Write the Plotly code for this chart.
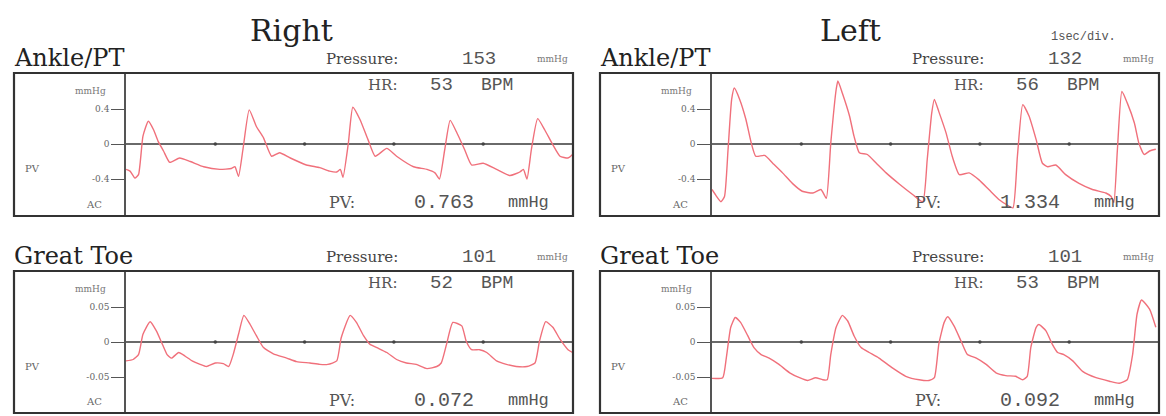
import plotly.graph_objects as go

W, H = 1166, 416

# ---------------- data ----------------
side_titles = ["Right", "Left"]
site_names = ["Ankle/PT", "Ankle/PT", "Great Toe", "Great Toe"]
pressure_mmHg = ["153", "132", "101", "101"]
hr_bpm = ["53", "56", "52", "53"]
pv_mmHg = ["0.763", "1.334", "0.072", "0.092"]
time_scale_label = "1sec/div."

ankle_ticks = [-0.4, 0, 0.4]
ankle_ticktext = ["-0.4", "0", "0.4"]
toe_ticks = [-0.05, 0, 0.05]
toe_ticktext = ["-0.05", "0", "0.05"]
sec_divs = [1, 2, 3, 4]

# Right Ankle/PT (time s, mmHg)
r_ankle_t = [0.00, 0.045, 0.10, 0.14, 0.19, 0.25, 0.31, 0.36, 0.42, 0.49, 0.60, 0.72, 0.87, 1.05, 1.18, 1.22,
             1.26, 1.31, 1.38, 1.46, 1.54, 1.63, 1.72, 1.84, 2.02, 2.17, 2.28, 2.36, 2.40, 2.43, 2.49, 2.54,
             2.62, 2.71, 2.79, 2.92, 3.03, 3.22, 3.37, 3.46, 3.51, 3.57, 3.63, 3.70, 3.79, 3.87, 4.00, 4.15,
             4.30, 4.41, 4.45, 4.49, 4.54, 4.61, 4.69, 4.78, 4.86, 4.95, 5.00]
r_ankle_v = [-0.29, -0.31, -0.39, -0.35, 0.09, 0.26, 0.16, 0.03, -0.08, -0.21, -0.16, -0.20, -0.26, -0.29, -0.28, -0.26,
             -0.37, -0.06, 0.39, 0.20, 0.07, -0.14, -0.10, -0.16, -0.24, -0.27, -0.31, -0.32, -0.29, -0.38, 0.01, 0.42,
             0.28, 0.05, -0.14, -0.05, -0.14, -0.26, -0.29, -0.33, -0.40, -0.06, 0.27, 0.14, -0.06, -0.24, -0.22, -0.29,
             -0.36, -0.32, -0.29, -0.40, -0.06, 0.29, 0.16, -0.01, -0.14, -0.16, -0.12]

# Left Ankle/PT
l_ankle_t = [0.00, 0.045, 0.10, 0.14, 0.18, 0.22, 0.25, 0.31, 0.38, 0.44, 0.49, 0.59, 0.68, 0.79, 0.90, 1.01,
             1.13, 1.22, 1.28, 1.33, 1.39, 1.41, 1.46, 1.54, 1.59, 1.65, 1.74, 1.84, 1.95, 2.10, 2.25, 2.36,
             2.41, 2.46, 2.49, 2.54, 2.62, 2.69, 2.77, 2.88, 2.99, 3.10, 3.22, 3.31, 3.37, 3.42, 3.48, 3.55,
             3.63, 3.70, 3.76, 3.85, 3.96, 4.11, 4.26, 4.41, 4.47, 4.50, 4.54, 4.59, 4.65, 4.73, 4.78, 4.84,
             4.90, 4.97]
l_ankle_v = [-0.52, -0.59, -0.66, -0.60, -0.06, 0.51, 0.64, 0.51, 0.28, 0.01, -0.14, -0.13, -0.22, -0.33, -0.45, -0.54,
             -0.56, -0.52, -0.62, 0.01, 0.62, 0.72, 0.58, 0.32, 0.09, -0.10, -0.12, -0.22, -0.33, -0.46, -0.58, -0.66,
             -0.18, 0.35, 0.51, 0.37, 0.13, -0.14, -0.35, -0.33, -0.41, -0.52, -0.64, -0.70, -0.73, -0.14, 0.45, 0.32,
             0.05, -0.22, -0.26, -0.24, -0.35, -0.45, -0.52, -0.56, -0.60, -0.67, -0.06, 0.60, 0.47, 0.24, 0.01, -0.12,
             -0.08, -0.06]

# Right Great Toe
r_toe_t = [0.00, 0.08, 0.14, 0.19, 0.27, 0.34, 0.40, 0.46, 0.51, 0.59, 0.66, 0.74, 0.83, 0.90, 1.00, 1.09,
           1.15, 1.20, 1.26, 1.32, 1.39, 1.46, 1.54, 1.65, 1.80, 1.91, 2.06, 2.17, 2.26, 2.36, 2.41, 2.51,
           2.58, 2.66, 2.73, 2.81, 2.92, 3.03, 3.14, 3.25, 3.37, 3.48, 3.53, 3.59, 3.66, 3.76, 3.81, 3.87,
           3.96, 4.04, 4.15, 4.26, 4.37, 4.49, 4.58, 4.63, 4.70, 4.78, 4.86, 4.95, 5.00]
r_toe_v = [-0.027, -0.025, -0.018, 0.011, 0.029, 0.016, -0.001, -0.018, -0.023, -0.015, -0.020, -0.027, -0.032, -0.035, -0.030, -0.031,
           -0.035, -0.018, 0.011, 0.038, 0.025, 0.009, -0.008, -0.017, -0.023, -0.028, -0.030, -0.032, -0.032, -0.027, 0.006, 0.038,
           0.028, 0.009, -0.003, -0.008, -0.015, -0.025, -0.030, -0.032, -0.038, -0.035, -0.030, -0.003, 0.028, 0.023, 0.001, -0.011,
           -0.011, -0.015, -0.027, -0.032, -0.035, -0.035, -0.030, 0.001, 0.029, 0.021, 0.004, -0.011, -0.015]

# Left Great Toe
l_toe_t = [0.00, 0.12, 0.16, 0.21, 0.26, 0.32, 0.40, 0.47, 0.55, 0.64, 0.75, 0.87, 0.98, 1.07, 1.16, 1.24,
           1.29, 1.33, 1.39, 1.46, 1.52, 1.59, 1.67, 1.76, 1.87, 2.02, 2.17, 2.32, 2.43, 2.49, 2.54, 2.60,
           2.64, 2.71, 2.79, 2.86, 2.96, 3.07, 3.18, 3.29, 3.40, 3.48, 3.53, 3.57, 3.63, 3.66, 3.74, 3.81,
           3.87, 3.94, 4.04, 4.15, 4.30, 4.45, 4.56, 4.65, 4.71, 4.76, 4.81, 4.90, 4.97]
l_toe_v = [-0.052, -0.051, -0.023, 0.021, 0.035, 0.028, 0.009, -0.008, -0.018, -0.023, -0.032, -0.044, -0.051, -0.055, -0.051, -0.054,
           -0.054, -0.018, 0.021, 0.038, 0.030, 0.009, -0.008, -0.015, -0.023, -0.037, -0.049, -0.054, -0.055, -0.051, -0.003, 0.028,
           0.036, 0.023, 0.001, -0.018, -0.023, -0.032, -0.044, -0.048, -0.049, -0.054, -0.049, -0.008, 0.021, 0.025, 0.016, -0.003,
           -0.015, -0.018, -0.027, -0.042, -0.051, -0.056, -0.059, -0.054, -0.018, 0.040, 0.060, 0.047, 0.021]

waves = [(r_ankle_t, r_ankle_v), (l_ankle_t, l_ankle_v), (r_toe_t, r_toe_v), (l_toe_t, l_toe_v)]

# ---------------- styling / layout ----------------
WAVE_COLOR = "#f0707b"
SERIF = "DejaVu Serif"
MONO = "Liberation Mono"
PX_PER_SEC = 89.3


def px(x):
    return x / W


def py(y):
    return 1 - y / H


fig = go.Figure()
layout = dict(
    width=W, height=H, margin=dict(l=0, r=0, t=0, b=0),
    paper_bgcolor="white", plot_bgcolor="white", showlegend=False,
)
annotations = []
shapes = []


def ann(x, y, text, size, family=SERIF, color="#555", xanchor="center"):
    annotations.append(dict(
        x=px(x), y=py(y), xref="paper", yref="paper", text=text, showarrow=False,
        xanchor=xanchor, yanchor="middle", font=dict(family=family, size=size, color=color),
    ))


# column titles
ann(291, 31, side_titles[0], 30, color="#222")
ann(850, 31, side_titles[1], 30, color="#222")
ann(1083, 37, time_scale_label, 12, family=MONO, color="#555")

for i in range(4):
    col, row = i % 2, i // 2
    L = 14 + 586 * col
    R = L + 559
    D = L + 112
    if row == 0:
        T, B, Z, scale = 73, 216, 144, 87.5
        tv, tt = ankle_ticks, ankle_ticktext
    else:
        T, B, Z, scale = 271, 413, 342, 700.0
        tv, tt = toe_ticks, toe_ticktext
    yr = [-(B - Z) / scale, (Z - T) / scale]
    n = "" if i == 0 else str(i + 1)
    xa, ya = "x" + n, "y" + n
    ov = str(i + 5)

    layout["xaxis" + n] = dict(
        domain=[px(D), px(R)], range=[0, (R - D) / PX_PER_SEC], anchor=ya,
        showline=False, showgrid=False, zeroline=False, showticklabels=False, ticks="",
        fixedrange=True,
    )
    layout["yaxis" + n] = dict(
        domain=[py(B), py(T)], range=yr, anchor=xa,
        showline=True, linecolor="#555", linewidth=1.5,
        ticks="outside", ticklen=13, tickwidth=1.3, tickcolor="#555",
        tickvals=tv, ticktext=tt, tickfont=dict(family=SERIF, size=9, color="#666"),
        showgrid=False, zeroline=True, zerolinecolor="#6a6a6a", zerolinewidth=1.5,
        fixedrange=True,
    )
    layout["yaxis" + ov] = dict(
        overlaying=ya, anchor=xa, range=yr, side="left",
        showline=False, showgrid=False, zeroline=False, showticklabels=False,
        ticks="inside", ticklen=11, tickwidth=1.3, tickcolor="#555",
        tickvals=[tv[0], tv[2]], fixedrange=True,
    )

    t, v = waves[i]
    fig.add_trace(go.Scatter(
        x=t, y=v, xaxis=xa, yaxis=ya, mode="lines",
        line=dict(color=WAVE_COLOR, width=1.4, shape="spline", smoothing=0.5),
        hoverinfo="skip",
    ))
    fig.add_trace(go.Scatter(
        x=sec_divs, y=[0] * len(sec_divs), xaxis=xa, yaxis=ya, mode="markers",
        marker=dict(size=3.5, color="#444"), hoverinfo="skip",
    ))

    shapes.append(dict(
        type="rect", xref="paper", yref="paper",
        x0=px(L), x1=px(R), y0=py(B), y1=py(T),
        line=dict(color="#333", width=2.2), layer="above",
    ))

    # header line
    ann(L - 2, T - 15, site_names[i], 24, color="#222", xanchor="left")
    ann(L + 310, T - 14, "Pressure:", 15, color="#444", xanchor="left")
    ann(L + 465, T - 14, pressure_mmHg[i], 19, family=MONO, color="#555")
    ann(L + 538, T - 14, "mmHg", 9, color="#777")

    # HR line
    ann(L + 368, T + 12, "HR:", 15, color="#555")
    ann(L + 427, T + 12, hr_bpm[i], 19, family=MONO, color="#555")
    ann(L + 483, T + 12, "BPM", 18, family=MONO, color="#555")

    # PV line
    ann(L + 328, B - 13, "PV:", 16, color="#555")
    ann(L + 430, B - 13, pv_mmHg[i], 20, family=MONO, color="#555")
    ann(L + 514, B - 13, "mmHg", 17, family=MONO, color="#555")

    # inner labels
    ann(L + 76, T + 18, "mmHg", 9, color="#777")
    ann(L + 18, T + 95, "PV", 10, color="#666")
    ann(L + 80, B - 12, "AC", 10, color="#666")

layout["annotations"] = annotations
layout["shapes"] = shapes
fig.update_layout(**layout)
fig.write_html("out.html")
